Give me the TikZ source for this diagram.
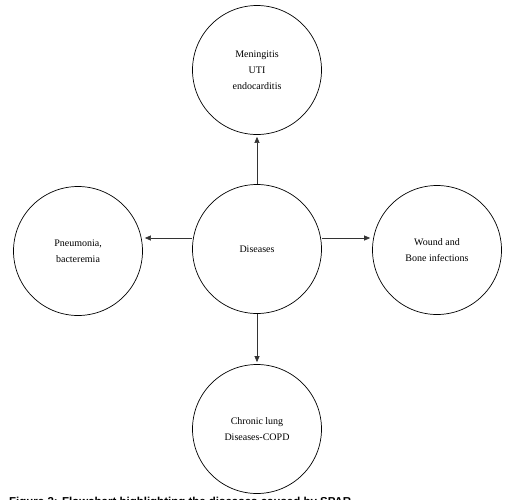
\documentclass[tikz,border=0pt]{standalone}
\usepackage{fontspec}
\setmainfont{Liberation Serif}
\newfontfamily\capfont{Liberation Sans}
\usetikzlibrary{arrows.meta}
\begin{document}
\begin{tikzpicture}[x=1pt,y=-1pt,
  disc/.style={draw, line width=0.7pt, circle, minimum size=129pt, inner sep=0pt,
    align=center, font=\fontsize{10}{16}\selectfont},
  link/.style={line width=0.6pt, draw=black!80, -{Triangle[length=6pt,width=5pt]}, shorten >=2pt}]
\useasboundingbox (0,0) rectangle (522,499);
\clip (0,0) rectangle (522,499);
\node[disc] (c) at (257,249) {Diseases};
\node[disc] (t) at (257,70) {Meningitis\\UTI\\endocarditis};
\node[disc] (l) at (78,251) {Pneumonia,\\bacteremia};
\node[disc] (r) at (437,250) {Wound and\\Bone infections};
\node[disc] (b) at (257,429) {Chronic lung\\Diseases-COPD};
\coordinate (cl) at ([yshift=11pt]c.west);
\coordinate (cr) at ([yshift=11pt]c.east);
\draw[link] (c.north) -- (t.south);
\draw[link] (c.south) -- (b.north);
\draw[link] (cl) -- (cl -| l.east);
\draw[link] (cr) -- (cr -| r.west);
\node[anchor=north west, inner sep=0pt, font=\capfont\bfseries\fontsize{11.5}{13}\selectfont] (cap) at (9,496.5)
  {Figure 3: Flowchart highlighting the diseases caused by SPAR};
\end{tikzpicture}
\end{document}
